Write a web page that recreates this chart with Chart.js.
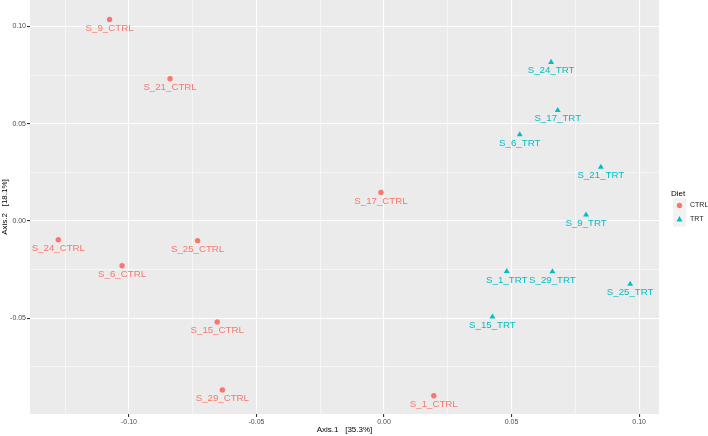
<!DOCTYPE html>
<html>
<head>
<meta charset="utf-8">
<script src="https://cdn.jsdelivr.net/npm/chart.js@4.4.0/dist/chart.umd.min.js"></script>
<style>
  html, body { margin: 0; padding: 0; background: #fff; }
  #wrap { width: 708px; height: 436px; position: relative; }
</style>
</head>
<body>
<div id="wrap"><canvas id="pcoa"></canvas></div>
<script>
// PCoA coordinates
const ctrlNames = ['S_9_CTRL', 'S_21_CTRL', 'S_17_CTRL', 'S_24_CTRL', 'S_25_CTRL', 'S_6_CTRL', 'S_15_CTRL', 'S_29_CTRL', 'S_1_CTRL'];
const ctrlAxis1 = [-0.1076, -0.0839, -0.0012, -0.1277, -0.0731, -0.1027, -0.0654, -0.0634, 0.0195];
const ctrlAxis2 = [0.1036, 0.0731, 0.0147, -0.0096, -0.0101, -0.0230, -0.0519, -0.0868, -0.0898];

const trtNames = ['S_24_TRT', 'S_17_TRT', 'S_6_TRT', 'S_21_TRT', 'S_9_TRT', 'S_1_TRT', 'S_29_TRT', 'S_25_TRT', 'S_15_TRT'];
const trtAxis1 = [0.0655, 0.0681, 0.0532, 0.0850, 0.0792, 0.0481, 0.0660, 0.0965, 0.0425];
const trtAxis2 = [0.0816, 0.0569, 0.0444, 0.0277, 0.0032, -0.0259, -0.0260, -0.0324, -0.0493];

const xTicks = [-0.10, -0.05, 0.00, 0.05, 0.10];
const yTicks = [-0.05, 0.00, 0.05, 0.10];

const CTRL_COL = '#F8766D';
const TRT_COL = '#00BFC4';

function toPoints(xs, ys, names) {
  return xs.map(function (x, i) { return { x: x, y: ys[i], name: names[i] }; });
}

function isMajor(v, list) {
  return list.some(function (t) { return Math.abs(t - v) < 1e-6; });
}

// grey panel background
const panelBg = {
  id: 'panelBg',
  beforeDraw: function (chart) {
    const a = chart.chartArea, ctx = chart.ctx;
    ctx.save();
    ctx.fillStyle = '#EBEBEB';
    ctx.fillRect(a.left, a.top, a.right - a.left, a.bottom - a.top);
    ctx.restore();
  }
};

// sample labels under each point
const pointLabels = {
  id: 'pointLabels',
  afterDatasetsDraw: function (chart) {
    const ctx = chart.ctx;
    ctx.save();
    ctx.font = '9.7px "Liberation Sans", Arial, sans-serif';
    ctx.textAlign = 'center';
    ctx.textBaseline = 'middle';
    chart.data.datasets.forEach(function (ds, di) {
      const meta = chart.getDatasetMeta(di);
      ctx.fillStyle = ds.borderColor;
      meta.data.forEach(function (el, i) {
        ctx.fillText(ds.data[i].name, el.x, el.y + 8.5);
      });
    });
    ctx.restore();
  }
};

// ggplot style legend on the right
const dietLegend = {
  id: 'dietLegend',
  afterDraw: function (chart) {
    const ctx = chart.ctx;
    const x0 = chart.chartArea.right + 12;
    ctx.save();
    ctx.fillStyle = '#000';
    ctx.font = '8px "Liberation Sans", Arial, sans-serif';
    ctx.textBaseline = 'middle';
    ctx.fillText('Diet', x0, 194);
    const keys = [
      { label: 'CTRL', color: CTRL_COL, style: 'circle', y: 205.5 },
      { label: 'TRT', color: TRT_COL, style: 'triangle', y: 219.5 }
    ];
    keys.forEach(function (k) {
      ctx.fillStyle = '#F2F2F2';
      ctx.fillRect(x0 + 2, k.y - 7, 13, 14);
      ctx.fillStyle = k.color;
      ctx.beginPath();
      if (k.style === 'circle') {
        ctx.arc(x0 + 8.5, k.y, 2.7, 0, Math.PI * 2);
      } else {
        ctx.moveTo(x0 + 8.5, k.y - 3.4);
        ctx.lineTo(x0 + 11.5, k.y + 1.9);
        ctx.lineTo(x0 + 5.5, k.y + 1.9);
        ctx.closePath();
      }
      ctx.fill();
      ctx.fillStyle = '#1a1a1a';
      ctx.font = '7px "Liberation Sans", Arial, sans-serif';
      ctx.fillText(k.label, x0 + 19, k.y);
    });
    ctx.restore();
  }
};

const ctx = document.getElementById('pcoa');

const chartPcoa = new Chart(ctx, {
  type: 'scatter',
  data: {
    datasets: [{
      label: 'CTRL',
      data: toPoints(ctrlAxis1, ctrlAxis2, ctrlNames),
      pointStyle: 'circle',
      pointRadius: 2.7,
      borderWidth: 0,
      backgroundColor: CTRL_COL,
      borderColor: CTRL_COL
    }, {
      label: 'TRT',
      data: toPoints(trtAxis1, trtAxis2, trtNames),
      pointStyle: 'triangle',
      pointRadius: 3.4,
      borderWidth: 0,
      backgroundColor: TRT_COL,
      borderColor: TRT_COL
    }]
  },
  options: {
    responsive: true,
    maintainAspectRatio: false,
    animation: false,
    events: [],
    layout: { autoPadding: false, padding: { top: 0, right: 49, bottom: 0, left: 0 } },
    plugins: {
      legend: { display: false },
      tooltip: { enabled: false }
    },
    scales: {
      x: {
        type: 'linear',
        min: -0.1388,
        max: 0.1078,
        afterFit: function (scale) {
          scale.height = 22;
          scale.paddingLeft = 0;
          scale.paddingRight = 0;
        },
        border: { display: false },
        grid: {
          color: '#FFFFFF',
          lineWidth: function (c) { return isMajor(c.tick.value, xTicks) ? 1.1 : 0.55; },
          tickColor: function (c) { return isMajor(c.tick.value, xTicks) ? '#333333' : 'rgba(0,0,0,0)'; },
          tickLength: 3,
          drawTicks: true
        },
        ticks: {
          stepSize: 0.025,
          includeBounds: false,
          autoSkip: false,
          maxRotation: 0,
          padding: 1,
          color: '#4D4D4D',
          font: { size: 7, family: '"Liberation Sans", Arial, sans-serif' },
          callback: function (v) { return isMajor(v, xTicks) ? v.toFixed(2) : ''; }
        },
        title: {
          display: true,
          text: 'Axis.1   [35.3%]',
          color: '#000',
          padding: { top: 0, bottom: 1 },
          font: { size: 8, family: '"Liberation Sans", Arial, sans-serif' }
        }
      },
      y: {
        type: 'linear',
        min: -0.0992,
        max: 0.1136,
        afterFit: function (scale) {
          scale.width = 30;
          scale.paddingTop = 0;
          scale.paddingBottom = 0;
        },
        border: { display: false },
        grid: {
          color: '#FFFFFF',
          lineWidth: function (c) { return isMajor(c.tick.value, yTicks) ? 1.1 : 0.55; },
          tickColor: function (c) { return isMajor(c.tick.value, yTicks) ? '#333333' : 'rgba(0,0,0,0)'; },
          tickLength: 3,
          drawTicks: true
        },
        ticks: {
          stepSize: 0.025,
          includeBounds: false,
          autoSkip: false,
          padding: 1,
          color: '#4D4D4D',
          font: { size: 7, family: '"Liberation Sans", Arial, sans-serif' },
          callback: function (v) { return isMajor(v, yTicks) ? v.toFixed(2) : ''; }
        },
        title: {
          display: true,
          text: 'Axis.2   [18.1%]',
          color: '#000',
          padding: { top: 0, bottom: 0 },
          font: { size: 8, family: '"Liberation Sans", Arial, sans-serif' }
        }
      }
    }
  },
  plugins: [panelBg, pointLabels, dietLegend]
});
</script>
</body>
</html>
